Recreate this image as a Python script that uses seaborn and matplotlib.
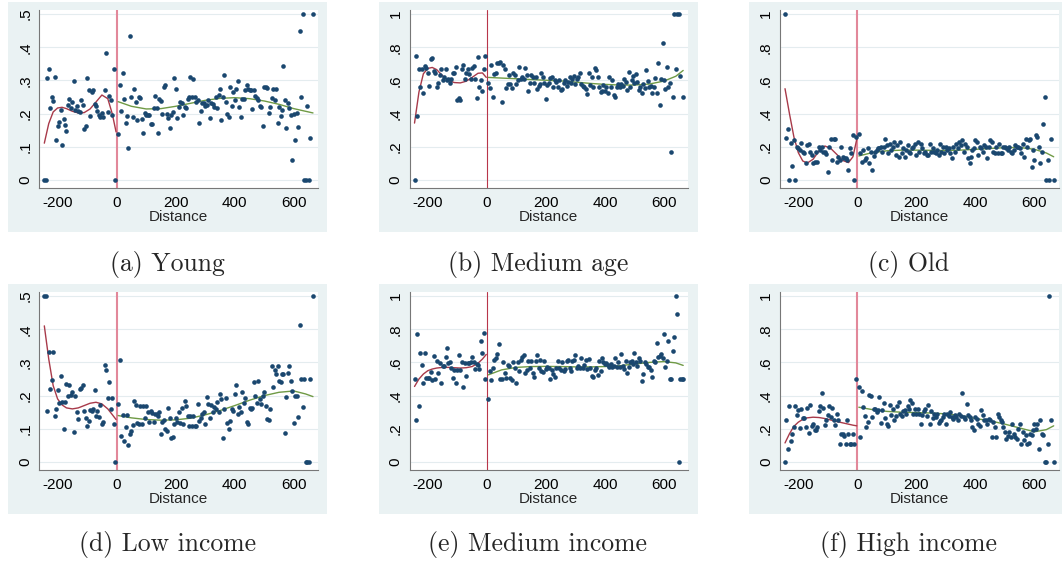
import numpy as np
import pandas as pd
import matplotlib
matplotlib.use("Agg")
import matplotlib.pyplot as plt
import seaborn as sns
from matplotlib.patches import Rectangle

sns.set_theme(style="white")
plt.rcParams['font.family'] = ['Liberation Sans', 'DejaVu Sans']

NA = np.nan

# distance bins (left and right of the cutoff)
dist_left = list(range(-245, 0, 5))
dist_right = list(range(5, 670, 5))

fit_left_x = [-245, -230, -215, -200, -185, -170, -150, -130, -110, -90, -70, -50, -30, -15, -2]
fit_right_x = [5, 50, 100, 150, 200, 250, 300, 350, 400, 450, 500, 550, 600, 640, 665]

# (a) Young
young_left = [0, 0, .307, .334, .218, .25, .238, .31, .121, .163,
              .176, .211, .104, .183, .166, .148, .226, .243, .218, .236,
              .299, .211, .223, .208, .206, .24, .226, .154, .163, .307,
              .27, .193, .265, .27, .229, .223, .208, .196, .191, .201,
              .191, .272, .382, .206, .254, .24, .196, .334, 0]
young_right = [.14, .287, .208, .322, .243, .173, .193, .096, .434, .25,
               .19, .273, .236, .18, .25, .246, .183, .141, .203, .196,
               .196, .196, .169, .169, .216, .253, .216, .141, .243, .238,
               .198, .281, .286, .198, .186, .156, .196, .205, .307, .273,
               .186, .221, .236, .231, .196, .221, .216, .243, .25, .309,
               .25, .304, .25, .236, .241, .173, .208, .231, .231, .223,
               .225, .24, .186, .231, .229, .221, .25, .216, .255, .273,
               .181, .25, .317, .236, .2, .191, .28, .223, .266, .241,
               .273, .297, .221, .191, .243, .243, .272, .287, .273, .27,
               .27, .213, .272, .254, .246, .24, .223, .22, .163, .28,
               .28, .277, .203, .221, .246, .273, .241, .273, .173, .221,
               .193, .21, .344, .241, .156, .231, .216, .196, .061, .2,
               .121, .201, .161, .45, .25, .5, 0, 0, .223, 0,
               .126, NA, .5]
young_fit_left = [.111, .17, .205, .217, .219, .215, .207, .202, .203, .214, .235, .256, .245, .2, .145]
young_fit_right = [.236, .222, .214, .215, .222, .231, .24, .246, .248, .245, .238, .228, .215, .207, .202]

# (b) Medium age
medage_left = [0, .747, .387, .667, .559, .667, .527, .687, .677, .647,
               .567, .727, .733, .657, .647, .559, .587, .633, .667, .603,
               .62, .667, .603, .607, .587, .607, .647, .647, .683, .479,
               .493, .483, .667, .693, .607, .647, .667, .64, .607, .673,
               .687, .607, .493, .743, .559, .603, .539, .667, .747]
medage_right = [.587, .553, .693, .499, .639, .647, .707, .703, .713, .467,
                .693, .667, .553, .579, .633, .579, .553, .647, .633, .579,
                .603, .679, .607, .619, .607, .673, .633, .539, .583, .633,
                .619, .587, .619, .547, .567, .579, .647, .623, .587, .487,
                .573, .587, .613, .623, .559, .603, .593, .559, .603, .543,
                .547, .587, .603, .567, .593, .619, .587, .607, .627, .579,
                .607, .623, .647, .579, .567, .559, .547, .519, .647, .573,
                .619, .563, .673, .663, .619, .559, .533, .539, .573, .539,
                .559, .527, .619, .559, .603, .513, .499, .559, .579, .559,
                .579, .567, .607, .593, .543, .653, .559, .603, .627, .587,
                .639, .593, .543, .559, .527, .579, .553, .663, .599, .559,
                .567, .523, .559, .613, .527, .703, .453, .607, .824, .603,
                .547, .683, .56, .583, .166, .499, 1.0, .667, 1.0, 1.0,
                .627, NA, .499]
medage_fit_left = [.343, .53, .64, .672, .678, .665, .628, .6, .587, .585, .595, .618, .643, .645, .618]
medage_fit_right = [.618, .614, .61, .605, .601, .597, .59, .582, .576, .572, .572, .578, .596, .625, .66]

# (c) Old
old_left = [1.0, .253, .31, 0, .222, .084, .242, 0, .2, .19,
            .18, .222, .17, .16, .1, .212, .214, .17, .15, .1,
            .11, .17, .11, .2, .18, .2, .17, .17, .155, .05,
            .2, .25, .12, .25, .25, .11, .14, .12, .2, .14,
            .13, .13, .12, .06, .19, .16, .27, 0, .26]
old_right = [.28, .16, .11, .18, .12, .13, .19, .1, .17, .06,
             .145, .17, .18, .19, .19, .2, .17, .2, .25, .21,
             .16, .22, .18, .2, .23, .15, .21, .14, .23, .16,
             .19, .14, .18, .21, .17, .16, .19, .2, .22, .15,
             .23, .17, .22, .19, .16, .17, .15, .15, .22, .17,
             .19, .17, .16, .18, .15, .22, .17, .2, .16, .2,
             .18, .19, .16, .13, .2, .17, .22, .19, .23, .21,
             .24, .17, .22, .2, .13, .1, .14, .18, .19, .24,
             .23, .15, .2, .19, .17, .21, .2, .13, .2, .24,
             .23, .17, .16, .2, .16, .22, .16, .16, .2, .2,
             .19, .18, .2, .17, .16, .18, .21, .2, .2, .19,
             .16, .22, .14, .25, .2, .24, .25, .08, .18, .12,
             .27, .26, .2, .1, .17, .34, .5, 0, .12, 0,
             .25, NA, 0]
old_fit_left = [.55, .4, .26, .165, .115, .102, .125, .175, .205, .19, .155, .118, .105, .14, .245]
old_fit_right = [.145, .165, .176, .18, .18, .179, .178, .18, .185, .19, .195, .196, .185, .163, .14]

# (d) Low income
lowinc_left = [.5, .5, .154, .332, .219, .248, .332, .138, .161, .216,
               .178, .259, .181, .1, .181, .234, .198, .231, .201, .211,
               .091, .198, .151, .131, .221, .224, .231, .154, .134, .109,
               .124, .158, .154, .161, .218, .138, .153, .136, .171, .116,
               .121, .292, .277, .194, .241, .161, .194, .114, 0]
lowinc_right = [.174, .307, .078, .142, .062, .104, .142, .05, .084, .092,
                .11, .183, .172, .118, .114, .17, .116, .168, .134, .168,
                .15, .122, .154, .148, .122, .144, .145, .14, .15, .083,
                .12, .126, .1, .092, .164, .134, .073, .076, .115, .132,
                .12, .152, .117, .162, .115, .184, .17, .14, .108, .14,
                .108, .14, .108, .108, .176, .124, .133, .145, .152, .114,
                .196, .176, .133, .172, .15, .165, .16, .18, .152, .205,
                .19, .073, .16, .192, .118, .1, .125, .16, .155, .205,
                .232, .145, .165, .15, .21, .178, .193, .12, .115, .163,
                .16, .162, .24, .2, .178, .243, .19, .176, .2, .21,
                .17, .13, .128, .16, .29, .226, .276, .265, .29, .245,
                .24, .265, .265, .087, .196, .268, .29, .245, .215, .117,
                .198, .2, .136, .412, .25, .167, .25, 0, 0, 0,
                .25, NA, .5]
lowinc_fit_left = [.41, .31, .23, .19, .172, .163, .16, .163, .17, .177, .18, .175, .16, .143, .128]
lowinc_fit_right = [.14, .133, .128, .126, .127, .132, .142, .155, .17, .186, .2, .21, .214, .205, .197]

# (e) Medium income
medinc_left = [.5, .251, .771, .336, .658, .584, .477, .658, .509, .509,
               .509, .543, .497, .638, .503, .61, .537, .598, .473, .577,
               .577, .634, .684, .598, .604, .569, .509, .553, .477, .553,
               .644, .553, .604, .449, .594, .517, .594, .598, .604, .63,
               .604, .563, .59, .584, .563, .73, .654, .779, .501]
medinc_right = [.382, .549, .493, .569, .614, .624, .65, .71, .503, .503,
                .604, .537, .509, .584, .577, .509, .493, .604, .569, .477,
                .604, .549, .614, .63, .644, .537, .553, .61, .569, .61,
                .537, .513, .61, .644, .569, .614, .549, .543, .61, .563,
                .573, .569, .503, .553, .529, .513, .569, .61, .569, .553,
                .604, .549, .563, .61, .614, .569, .549, .61, .614, .644,
                .569, .577, .569, .624, .569, .584, .614, .563, .618, .569,
                .52, .515, .557, .569, .523, .61, .549, .624, .604, .59,
                .598, .585, .57, .59, .575, .58, .625, .57, .6, .575,
                .65, .58, .56, .61, .535, .575, .6, .61, .59, .655,
                .6, .58, .625, .61, .485, .53, .6, .59, .57, .575,
                .555, .51, .61, .6, .715, .63, .64, .65, .625, .77,
                .575, .61, .73, .5, .5, .67, .75, 1.0, .89, 0,
                .5, .5, .5]
medinc_fit_left = [.455, .5, .53, .55, .56, .566, .57, .57, .568, .566, .568, .575, .595, .62, .648]
medinc_fit_right = [.525, .555, .57, .575, .576, .575, .573, .573, .575, .58, .59, .6, .605, .597, .582]

# (f) High income
highinc_left = [0, .251, .08, .336, .127, .167, .211, .336, .282, .316,
                .207, .322, .268, .268, .211, .328, .175, .342, .215, .227,
                .191, .191, .211, .308, .336, .416, .324, .223, .251, .282,
                .336, .272, .324, .254, .223, .292, .251, .111, .167, .167,
                .155, .111, .251, .167, .111, .111, .167, .111, .503]
highinc_right = [.449, .151, .43, .332, .276, .211, .24, .404, .4, .274,
                 .322, .322, .302, .312, .392, .235, .312, .356, .268, .231,
                 .217, .342, .282, .322, .251, .276, .336, .362, .292, .276,
                 .308, .316, .288, .336, .322, .376, .356, .292, .322, .288,
                 .322, .288, .231, .282, .308, .322, .276, .342, .231, .308,
                 .268, .292, .27, .288, .233, .247, .251, .27, .288, .227,
                 .292, .276, .302, .27, .262, .282, .27, .251, .29, .28,
                 .416, .27, .262, .348, .282, .27, .251, .211, .191, .27,
                 .262, .231, .217, .312, .282, .251, .255, .231, .262, .251,
                 .151, .241, .211, .151, .292, .27, .251, .241, .211, .18,
                 .137, .155, .181, .151, .227, .171, .151, .137, .2, .23,
                 .111, .181, .131, .161, .111, .115, .17, .16, .195, .231,
                 .2, .231, .08, .251, .171, .165, 0, 0, .111, 1.0,
                 .251, NA, 0]
highinc_fit_left = [.115, .17, .215, .24, .257, .266, .27, .268, .262, .253, .244, .236, .228, .222, .218]
highinc_fit_right = [.33, .316, .305, .3, .298, .295, .29, .28, .262, .248, .228, .205, .182, .195, .218]

captions = ['(a) Young', '(b) Medium age', '(c) Old',
            '(d) Low income', '(e) Medium income', '(f) High income']

xticks = [-200, 0, 200, 400, 600]
xtick_labels = ['-200', '0', '200', '400', '600']
yticks_half = [0, .1, .2, .3, .4, .5]
ylabels_half = ['0', '.1', '.2', '.3', '.4', '.5']
yticks_one = [0, .2, .4, .6, .8, 1]
ylabels_one = ['0', '.2', '.4', '.6', '.8', '1']

panels = [
    (young_left, young_right, young_fit_left, young_fit_right, 'half', True),
    (medage_left, medage_right, medage_fit_left, medage_fit_right, 'one', False),
    (old_left, old_right, old_fit_left, old_fit_right, 'one', True),
    (lowinc_left, lowinc_right, lowinc_fit_left, lowinc_fit_right, 'half', True),
    (medinc_left, medinc_right, medinc_fit_left, medinc_fit_right, 'one', False),
    (highinc_left, highinc_right, highinc_fit_left, highinc_fit_right, 'one', True),
]

NAVY = '#1A476F'
MAROON = '#A83A4A'
GREEN = '#6F9A45'
BOX = '#EAF2F3'

W, H = 1062, 562
fig = plt.figure(figsize=(W / 100, H / 100), dpi=100)
fig.patch.set_facecolor('white')

col_left = [39.3, 409.5, 780.0]
row_top = [10.0, 292.0]
ax_w, ax_h = 278.7, 178.0
cap_y = [264, 544]

for i, (yl, yr, fl, fr, scale, thick) in enumerate(panels):
    row, col = divmod(i, 3)
    left, top = col_left[col], row_top[row]

    # light panel background box
    fig.patches.append(Rectangle(((left - 31) / W, 1 - (top + 222) / H), 319 / W, 230 / H,
                                 transform=fig.transFigure, facecolor=BOX,
                                 edgecolor='none', zorder=0))

    ax = fig.add_axes([left / W, 1 - (top + ax_h) / H, ax_w / W, ax_h / H])
    ax.set_facecolor('white')
    ax.set_zorder(1)

    df = pd.DataFrame({'distance': dist_left + dist_right, 'share': yl + yr})
    sns.scatterplot(data=df, x='distance', y='share', ax=ax, color=NAVY,
                    s=11, linewidth=0, zorder=4)
    sns.lineplot(x=fit_left_x, y=fl, ax=ax, color=MAROON, lw=1.0, zorder=3)
    sns.lineplot(x=fit_right_x, y=fr, ax=ax, color=GREEN, lw=1.0, zorder=3)

    if thick:
        ax.axvline(0, color='#E2889A', lw=1.5, zorder=2)
    else:
        ax.axvline(0, color='#B8364A', lw=0.8, zorder=2)

    if scale == 'half':
        ax.set_ylim(-0.024, 0.512)
        ax.set_yticks(yticks_half, ylabels_half, rotation=90, va='center')
    else:
        ax.set_ylim(-0.048, 1.024)
        ax.set_yticks(yticks_one, ylabels_one, rotation=90, va='center')
    ax.set_xlim(-262, 682)
    ax.set_xticks(xticks, xtick_labels)

    ax.yaxis.grid(True, color='#E4ECEF', lw=0.8)
    ax.xaxis.grid(False)
    ax.set_axisbelow(True)
    for side in ['top', 'right']:
        ax.spines[side].set_visible(False)
    for side in ['left', 'bottom']:
        ax.spines[side].set_color('#777777')
        ax.spines[side].set_linewidth(0.8)
    ax.tick_params(axis='both', direction='out', length=3, width=0.7,
                   color='#777777', labelsize=11, pad=2, labelcolor='black')
    ax.tick_params(axis='x', pad=3)

    ax.set_xlabel('Distance', fontsize=11, labelpad=0)
    ax.set_ylabel('')

    fig.text((left - 31 + 159.5) / W, 1 - cap_y[row] / H, captions[i],
             ha='center', va='center', fontsize=18.5, family='cmr10')

fig.savefig('out.png', dpi=100, facecolor='white')
